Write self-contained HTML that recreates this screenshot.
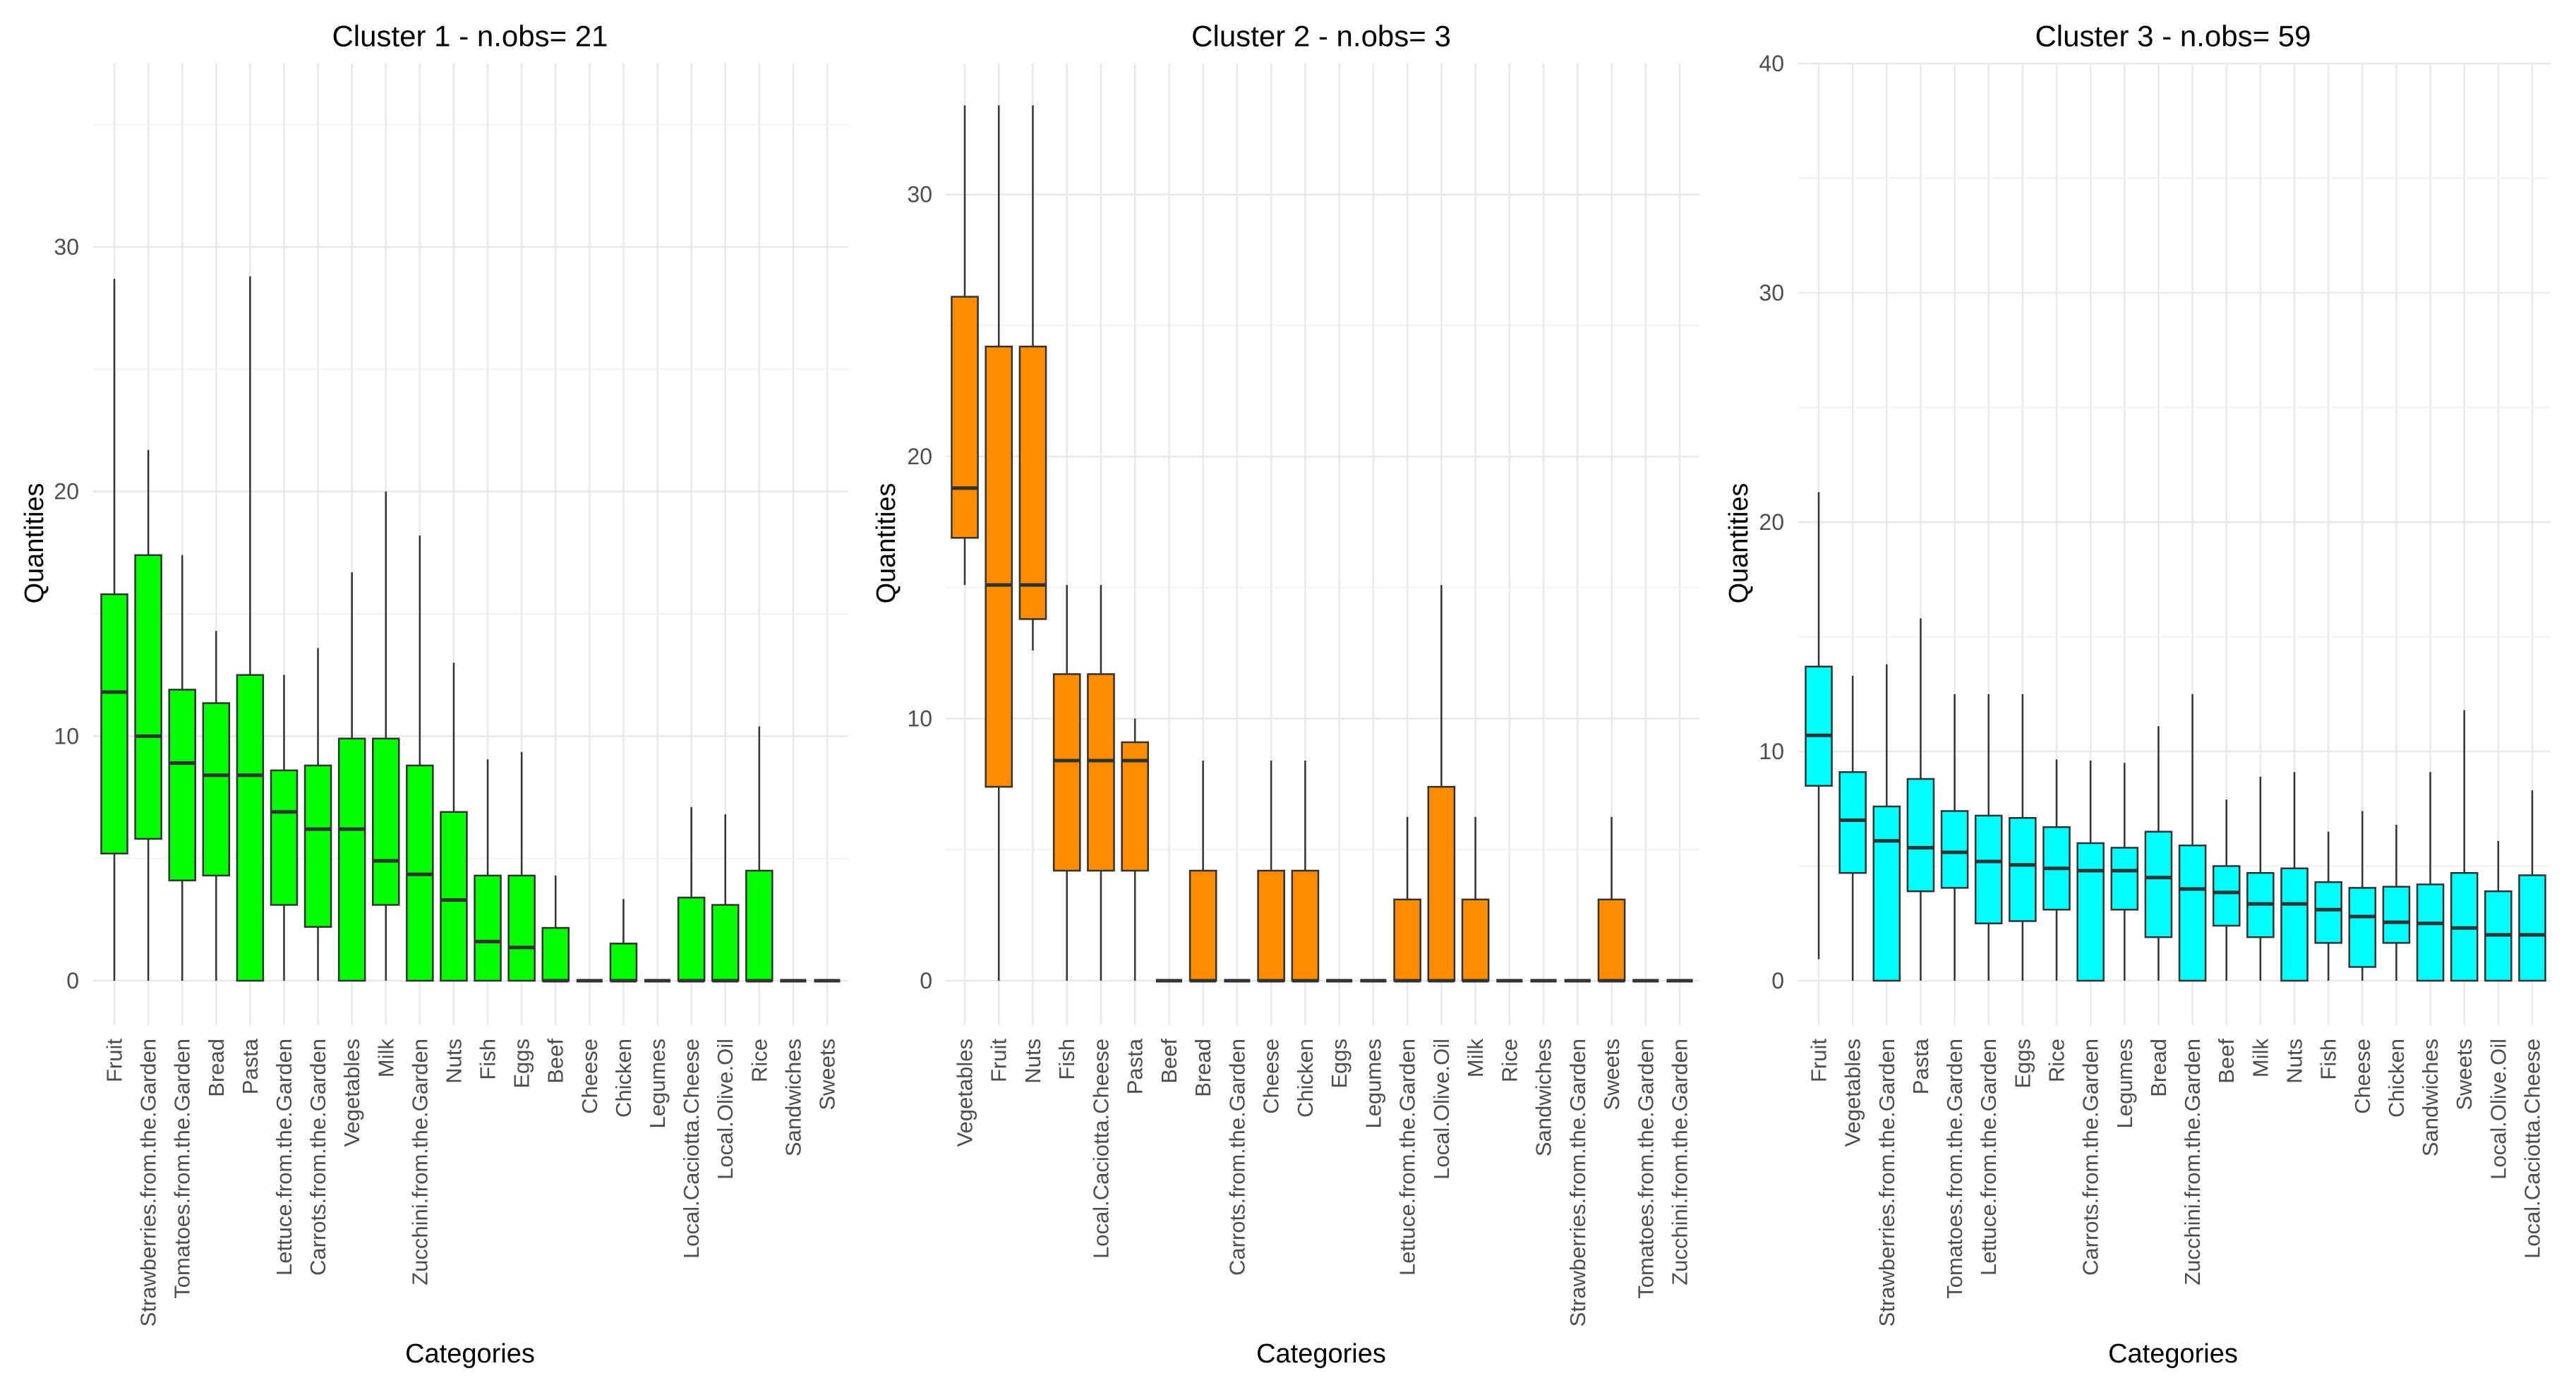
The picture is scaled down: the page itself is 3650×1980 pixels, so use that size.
<!DOCTYPE html>
<html><head><meta charset="utf-8"><style>
html,body{margin:0;padding:0;background:#fff;}
svg text{font-family:"Liberation Sans",Arial,sans-serif;}
</style></head><body>
<svg id="chart" width="3650" height="1975" viewBox="0 0 3650 1975" xmlns="http://www.w3.org/2000/svg"></svg>
<script>
// ---- data: cluster 1 ----
const cats1 = ["Fruit","Strawberries.from.the.Garden","Tomatoes.from.the.Garden","Bread","Pasta","Lettuce.from.the.Garden","Carrots.from.the.Garden","Vegetables","Milk","Zucchini.from.the.Garden","Nuts","Fish","Eggs","Beef","Cheese","Chicken","Legumes","Local.Caciotta.Cheese","Local.Olive.Oil","Rice","Sandwiches","Sweets"];
const low1 = [0,0,0,0,0,0,0,0,0,0,0,0,0,0,0,0,0,0,0,0,0,0];
const q1_1 = [5.2,5.8,4.1,4.3,0,3.1,2.2,0,3.1,0,0,0,0,0,0,0,0,0,0,0,0,0];
const med1 = [11.8,10.0,8.9,8.4,8.4,6.9,6.2,6.2,4.9,4.35,3.3,1.6,1.36,0,0,0,0,0,0,0,0,0];
const q3_1 = [15.8,17.4,11.9,11.35,12.5,8.6,8.8,9.9,9.9,8.8,6.9,4.3,4.3,2.16,0,1.52,0,3.4,3.1,4.5,0,0];
const high1 = [28.7,21.7,17.4,14.3,28.8,12.5,13.6,16.7,20.0,18.2,13.0,9.05,9.35,4.3,0,3.34,0,7.1,6.8,10.4,0,0];
const ticks1 = [0,10,20,30];
// ---- data: cluster 2 ----
const cats2 = ["Vegetables","Fruit","Nuts","Fish","Local.Caciotta.Cheese","Pasta","Beef","Bread","Carrots.from.the.Garden","Cheese","Chicken","Eggs","Legumes","Lettuce.from.the.Garden","Local.Olive.Oil","Milk","Rice","Sandwiches","Strawberries.from.the.Garden","Sweets","Tomatoes.from.the.Garden","Zucchini.from.the.Garden"];
const low2 = [15.1,0,12.6,0,0,0,0,0,0,0,0,0,0,0,0,0,0,0,0,0,0,0];
const q1_2 = [16.9,7.4,13.8,4.2,4.2,4.2,0,0,0,0,0,0,0,0,0,0,0,0,0,0,0,0];
const med2 = [18.8,15.1,15.1,8.4,8.4,8.4,0,0,0,0,0,0,0,0,0,0,0,0,0,0,0,0];
const q3_2 = [26.1,24.2,24.2,11.7,11.7,9.1,0,4.2,0,4.2,4.2,0,0,3.1,7.4,3.1,0,0,0,3.1,0,0];
const high2 = [33.4,33.4,33.4,15.1,15.1,10.0,0,8.4,0,8.4,8.4,0,0,6.25,15.1,6.25,0,0,0,6.25,0,0];
const ticks2 = [0,10,20,30];
// ---- data: cluster 3 ----
const cats3 = ["Fruit","Vegetables","Strawberries.from.the.Garden","Pasta","Tomatoes.from.the.Garden","Lettuce.from.the.Garden","Eggs","Rice","Carrots.from.the.Garden","Legumes","Bread","Zucchini.from.the.Garden","Beef","Milk","Nuts","Fish","Cheese","Chicken","Sandwiches","Sweets","Local.Olive.Oil","Local.Caciotta.Cheese"];
const low3 = [0.94,0,0,0,0,0,0,0,0,0,0,0,0,0,0,0,0,0,0,0,0,0];
const q1_3 = [8.5,4.7,0,3.9,4.05,2.5,2.6,3.1,0,3.1,1.9,0,2.4,1.9,0,1.65,0.6,1.65,0,0,0,0];
const med3 = [10.7,7.0,6.1,5.8,5.6,5.2,5.05,4.9,4.8,4.8,4.5,4.0,3.85,3.35,3.35,3.1,2.8,2.55,2.5,2.3,2.0,2.0];
const q3_3 = [13.7,9.1,7.6,8.8,7.4,7.2,7.1,6.7,6.0,5.8,6.5,5.9,5.0,4.7,4.9,4.3,4.05,4.1,4.2,4.7,3.9,4.6];
const high3 = [21.3,13.3,13.8,15.8,12.5,12.5,12.5,9.65,9.6,9.5,11.1,12.5,7.9,8.9,9.1,6.5,7.4,6.8,9.1,11.8,6.1,8.3];
const ticks3 = [0,10,20,30,40];

const NS = "http://www.w3.org/2000/svg";
const svg = document.getElementById("chart");
function mk(tag, attrs, parent){
  const e = document.createElementNS(NS, tag);
  for (const k in attrs) e.setAttribute(k, attrs[k]);
  (parent||svg).appendChild(e);
  return e;
}

const panels = [
  {title:"Cluster 1 - n.obs= 21", cats:cats1, low:low1, q1:q1_1, med:med1, q3:q3_1, high:high1, ticks:ticks1,
   left:132, right:1202, x0:162, x1:1172, ymax:37.5, fill:"#00ff00", qx:49, tickR:112, cx:666},
  {title:"Cluster 2 - n.obs= 3", cats:cats2, low:low2, q1:q1_2, med:med2, q3:q3_2, high:high2, ticks:ticks2,
   left:1340, right:2408, x0:1367, x1:2380, ymax:35.0, fill:"#ff8c00", qx:1256, tickR:1321, cx:1872},
  {title:"Cluster 3 - n.obs= 59", cats:cats3, low:low3, q1:q1_3, med:med3, q3:q3_3, high:high3, ticks:ticks3,
   left:2548, right:3614, x0:2577, x1:3588, ymax:40.0, fill:"#00ffff", qx:2464, tickR:2528, cx:3079}
];
const TOP = 90, BOT = 1390, GRID_BOT = 1453;

panels.forEach((p, pi) => {
  const g = mk("g", {});
  
  
  const y = v => BOT - (BOT - TOP) * v / p.ymax;
  const n = p.cats.length;
  const x = i => p.x0 + (p.x1 - p.x0) * i / (n - 1);
  const step = (p.x1 - p.x0) / (n - 1);
  const bw = step * 0.77;

  for (let v = 5; v < p.ymax; v += 10) {
    const l = mk("line", {x1:p.left, x2:p.right, y1:y(v), y2:y(v), stroke:"#f2f2f2", "stroke-width":2}, g);
    
    
  }
  p.ticks.forEach(t => {
    const l = mk("line", {x1:p.left, x2:p.right, y1:y(t), y2:y(t), stroke:"#e8e8e8", "stroke-width":2.5}, g);
    
    
    const tx = mk("text", {x:p.tickR, y:y(t), "text-anchor":"end", "dominant-baseline":"central", "font-size":32, fill:"#4d4d4d"}, g);
    tx.textContent = t;
    
    
  });
  p.cats.forEach((c, i) => {
    const l = mk("line", {x1:x(i), x2:x(i), y1:TOP, y2:GRID_BOT, stroke:"#e8e8e8", "stroke-width":2.5}, g);
    
    
  });
  p.cats.forEach((c, i) => {
    const bg = mk("g", {}, g);
    
    
    const cx = x(i);
    mk("line", {x1:cx, x2:cx, y1:y(p.high[i]), y2:y(p.q3[i]), stroke:"#333", "stroke-width":2.5}, bg);
    mk("line", {x1:cx, x2:cx, y1:y(p.q1[i]), y2:y(p.low[i]), stroke:"#333", "stroke-width":2.5}, bg);
    const h = y(p.q1[i]) - y(p.q3[i]);
    mk("rect", {x:cx - bw/2, y:y(p.q3[i]), width:bw, height:Math.max(h, 0), fill:p.fill, stroke:"#333", "stroke-width":2.5}, bg);
    mk("line", {x1:cx - bw/2, x2:cx + bw/2, y1:y(p.med[i]), y2:y(p.med[i]), stroke:"#333", "stroke-width":5}, bg);
    const ly = 1472;
    const t = mk("text", {x:cx, y:ly, "text-anchor":"end", "dominant-baseline":"central", "font-size":31, fill:"#4d4d4d",
      transform:"rotate(-90 " + cx + " " + ly + ")"}, g);
    t.textContent = c;
    
    
  });
  const tt = mk("text", {x:p.cx, y:51, "text-anchor":"middle", "dominant-baseline":"central", "font-size":42, fill:"#000"}, g);
  tt.textContent = p.title;
  
  
  const yq = 770;
  const qt = mk("text", {x:p.qx, y:yq, "text-anchor":"middle", "dominant-baseline":"central", "font-size":38, fill:"#000",
    transform:"rotate(-90 " + p.qx + " " + yq + ")"}, g);
  qt.textContent = "Quantities";
  
  
  const xt = mk("text", {x:p.cx, y:1919, "text-anchor":"middle", "dominant-baseline":"central", "font-size":38, fill:"#000"}, g);
  xt.textContent = "Categories";
  
  
});
</script>
</body></html>
